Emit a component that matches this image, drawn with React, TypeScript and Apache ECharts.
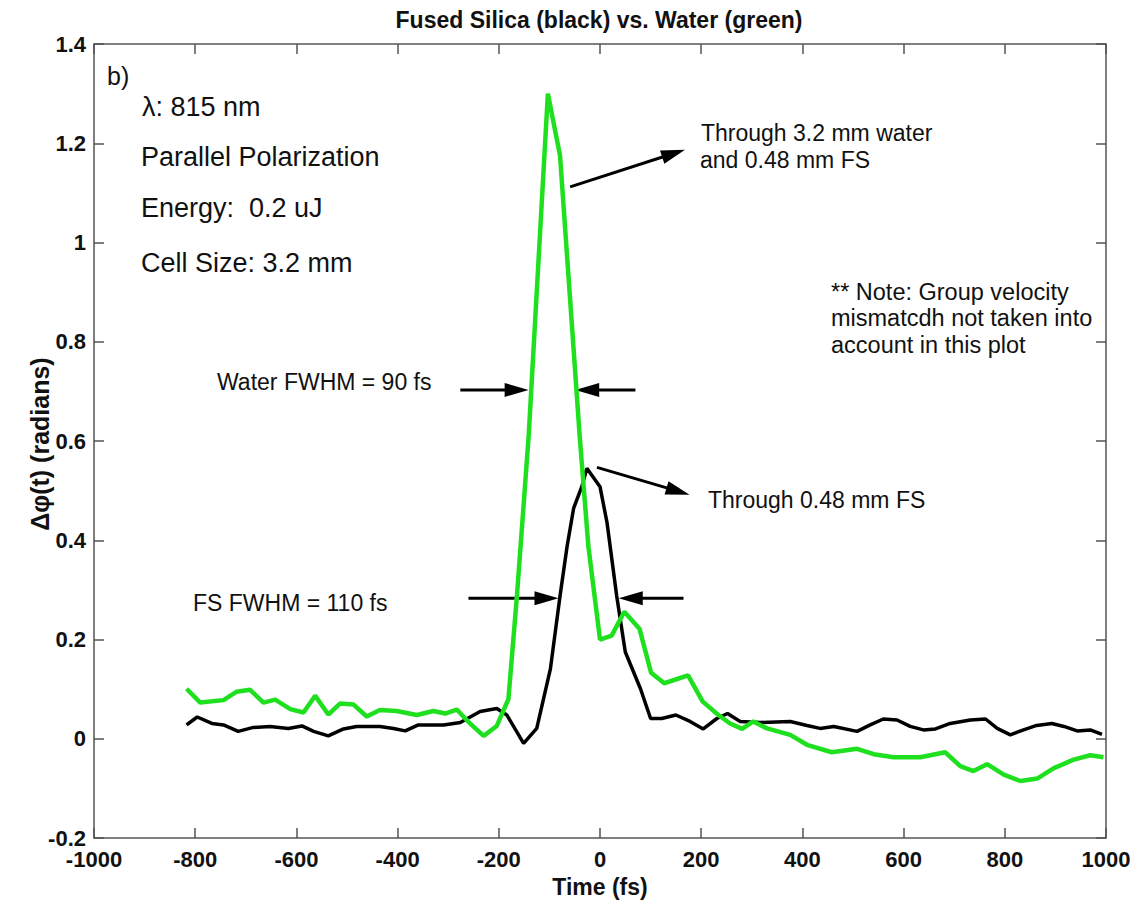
import React, { useEffect, useRef } from "react";
import * as echarts from "echarts";

// ---- Data ----
const fsTime = [-817, -796, -767, -744, -715, -685, -652, -616, -589, -566, -537, -507, -481, -435, -408, -385, -359, -309, -276, -237, -204, -184, -151, -125, -98, -79, -65, -52, -36, -26, 0, 14, 33, 50, 80, 100, 122, 150, 178, 204, 231, 252, 277, 317, 376, 409, 435, 462, 508, 534, 560, 587, 613, 639, 663, 692, 732, 762, 785, 811, 837, 863, 893, 917, 943, 969, 992];
const fsPhase = [0.028, 0.044, 0.031, 0.028, 0.015, 0.023, 0.025, 0.021, 0.026, 0.015, 0.006, 0.02, 0.025, 0.025, 0.021, 0.016, 0.028, 0.028, 0.033, 0.055, 0.061, 0.048, -0.009, 0.021, 0.141, 0.288, 0.388, 0.465, 0.508, 0.545, 0.508, 0.435, 0.288, 0.175, 0.101, 0.041, 0.041, 0.048, 0.035, 0.02, 0.041, 0.051, 0.035, 0.033, 0.035, 0.027, 0.021, 0.025, 0.015, 0.028, 0.04, 0.038, 0.025, 0.018, 0.02, 0.031, 0.038, 0.04, 0.021, 0.008, 0.018, 0.027, 0.031, 0.025, 0.016, 0.018, 0.009];

const waterTime = [-817, -790, -744, -718, -692, -665, -642, -612, -586, -563, -537, -514, -487, -461, -435, -402, -362, -329, -306, -283, -257, -230, -204, -181, -164, -141, -103, -79, -40, -23, 0, 23, 48, 78, 101, 127, 174, 203, 234, 257, 281, 303, 330, 376, 409, 458, 508, 541, 580, 633, 682, 712, 738, 765, 798, 831, 864, 897, 936, 969, 995];
const waterPhase = [0.101, 0.073, 0.078, 0.095, 0.099, 0.073, 0.079, 0.06, 0.053, 0.087, 0.049, 0.071, 0.069, 0.045, 0.058, 0.056, 0.048, 0.056, 0.051, 0.059, 0.031, 0.006, 0.026, 0.08, 0.29, 0.61, 1.3, 1.175, 0.608, 0.388, 0.2, 0.208, 0.256, 0.222, 0.133, 0.112, 0.128, 0.075, 0.048, 0.031, 0.02, 0.035, 0.021, 0.008, -0.012, -0.027, -0.02, -0.031, -0.037, -0.037, -0.027, -0.055, -0.065, -0.051, -0.072, -0.085, -0.08, -0.059, -0.042, -0.033, -0.037];

const xTicks = { min: -1000, max: 1000, interval: 200 };
const yTicks = { min: -0.2, max: 1.4, interval: 0.2 };

// annotation arrows in data coordinates
const arrowFrom = [[-276, 0.703], [70, 0.703], [-260, 0.2835], [165, 0.2835], [-59, 1.112], [-6, 0.547]];
const arrowTo = [[-141, 0.703], [-49, 0.703], [-82, 0.2835], [37, 0.2835], [168, 1.187], [177, 0.492]];

const FONT = "'Liberation Sans', Arial, Helvetica, sans-serif";

export default function App() {
  const ref = useRef<HTMLDivElement>(null);

  useEffect(() => {
    if (!ref.current) return;
    const chart = echarts.init(ref.current, null, { renderer: "svg" });
    const axisLineStyle = { color: "#555", width: 1.5 };
    const fmtY = (v: number) => String(Math.round(v * 10) / 10);
    const fmtX = (v: number) => String(Math.round(v));

    const textEl = (text: string, x: number, y: number, size: number, extra: any = {}, rotation = 0) => ({
      type: "text",
      x,
      y,
      rotation,
      silent: true,
      style: {
        text,
        fontFamily: FONT,
        fontSize: size,
        fill: "#111",
        textVerticalAlign: "middle",
        verticalAlign: "middle",
        ...extra,
      },
    });

    const texts = [
      textEl("Fused Silica (black) vs. Water (green)", 599, 20, 23, { fontWeight: "bold", textAlign: "center", align: "center" }),
      textEl("Δφ(t) (radians)", 40, 444, 25, { fontWeight: "bold", textAlign: "center", align: "center" }, Math.PI / 2),
      textEl("b)", 107, 76, 25),
      textEl("λ: 815 nm", 142, 107, 27),
      textEl("Parallel Polarization", 141, 157, 27),
      textEl("Energy:  0.2 uJ", 141, 208, 27),
      textEl("Cell Size: 3.2 mm", 141, 263, 27),
      textEl("Through 3.2 mm water", 701, 133, 23),
      textEl("and 0.48 mm FS", 700, 160, 23),
      textEl("** Note: Group velocity", 831, 292, 23.5),
      textEl("mismatcdh not taken into", 831, 318, 23.5),
      textEl("account in this plot", 831, 345, 23.5),
      textEl("Water FWHM = 90 fs", 217, 382, 23),
      textEl("FS FWHM = 110 fs", 193, 603, 23),
      textEl("Through 0.48 mm FS", 708, 500, 23),
    ];

    chart.setOption({
      animation: false,
      backgroundColor: "#fff",
      grid: { left: 94, right: 37, top: 44, bottom: 59, containLabel: false },
      xAxis: [
        {
          type: "value",
          ...xTicks,
          position: "bottom",
          name: "Time (fs)",
          nameLocation: "middle",
          nameGap: 32,
          nameTextStyle: { fontFamily: FONT, fontSize: 23, fontWeight: "bold", color: "#111" },
          axisLine: { show: true, onZero: false, lineStyle: axisLineStyle },
          axisTick: { show: true, inside: true, length: 10, lineStyle: axisLineStyle },
          axisLabel: { fontFamily: FONT, fontSize: 22, fontWeight: "bold", color: "#111", margin: 10, formatter: fmtX },
          splitLine: { show: false },
        },
        {
          type: "value",
          ...xTicks,
          position: "top",
          axisLine: { show: true, onZero: false, lineStyle: axisLineStyle },
          axisTick: { show: true, inside: true, length: 10, lineStyle: axisLineStyle },
          axisLabel: { show: false },
          splitLine: { show: false },
        },
      ],
      yAxis: [
        {
          type: "value",
          ...yTicks,
          position: "left",
          axisLine: { show: true, onZero: false, lineStyle: axisLineStyle },
          axisTick: { show: true, inside: true, length: 10, lineStyle: axisLineStyle },
          axisLabel: { fontFamily: FONT, fontSize: 22, fontWeight: "bold", color: "#111", margin: 8, formatter: fmtY },
          splitLine: { show: false },
        },
        {
          type: "value",
          ...yTicks,
          position: "right",
          axisLine: { show: true, onZero: false, lineStyle: axisLineStyle },
          axisTick: { show: true, inside: true, length: 10, lineStyle: axisLineStyle },
          axisLabel: { show: false },
          splitLine: { show: false },
        },
      ],
      series: [
        {
          name: "Fused Silica",
          type: "line",
          xAxisIndex: 0,
          yAxisIndex: 0,
          data: fsTime.map((t, i) => [t, fsPhase[i]]),
          showSymbol: false,
          symbol: "none",
          lineStyle: { color: "#000", width: 3.5 },
          silent: true,
        },
        {
          name: "Water",
          type: "line",
          xAxisIndex: 0,
          yAxisIndex: 0,
          data: waterTime.map((t, i) => [t, waterPhase[i]]),
          showSymbol: false,
          symbol: "none",
          lineStyle: { color: "#1fe01f", width: 4.5 },
          silent: true,
        },
      ],
      graphic: texts,
    });

    // arrows: convert data coords to pixels through the chart's own scales
    const arrows: any[] = [];
    const headLen = 24;
    const headHalf = 7;
    arrowFrom.forEach((f, i) => {
      const p0 = chart.convertToPixel({ gridIndex: 0 }, f) as number[];
      const p1 = chart.convertToPixel({ gridIndex: 0 }, arrowTo[i]) as number[];
      const dx = p1[0] - p0[0];
      const dy = p1[1] - p0[1];
      const len = Math.sqrt(dx * dx + dy * dy);
      const ux = dx / len;
      const uy = dy / len;
      const bx = p1[0] - ux * headLen;
      const by = p1[1] - uy * headLen;
      arrows.push({
        type: "line",
        silent: true,
        shape: { x1: p0[0], y1: p0[1], x2: bx + ux * 2, y2: by + uy * 2 },
        style: { stroke: "#000", lineWidth: 3 },
      });
      arrows.push({
        type: "polygon",
        silent: true,
        shape: {
          points: [
            [p1[0], p1[1]],
            [bx - uy * headHalf, by + ux * headHalf],
            [bx + uy * headHalf, by - ux * headHalf],
          ],
        },
        style: { fill: "#000" },
      });
    });
    chart.setOption({ graphic: [...texts, ...arrows] });

    return () => chart.dispose();
  }, []);

  return (
    <div
      ref={ref}
      style={{ position: "fixed", left: 0, top: 0, width: 1143, height: 903, background: "#fff" }}
    />
  );
}
